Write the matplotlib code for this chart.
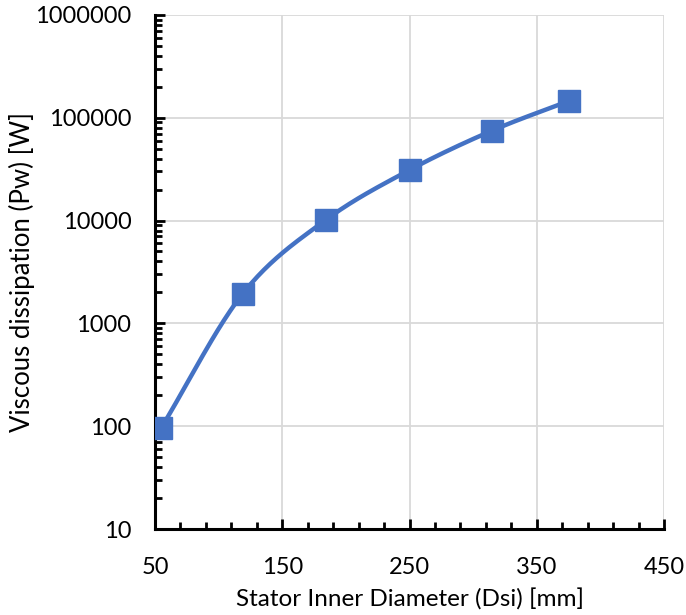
import numpy as np
import matplotlib
matplotlib.use("Agg")
import matplotlib.pyplot as plt
from matplotlib.ticker import MultipleLocator, LogLocator, NullFormatter, FuncFormatter

# Stator inner diameter [mm] and viscous dissipation [W]
dsi = [55, 119, 184, 250, 315, 375]
pw = [97, 1950, 10100, 31000, 75000, 145000]

plt.rcParams['font.family'] = ['Lato', 'DejaVu Sans']
blue = '#4472C4'


def smooth_curve(x, y, n=40):
    # Catmull-Rom through the points, built in (x, log y) so it follows the axis scale
    x = np.asarray(x, float)
    ly = np.log10(np.asarray(y, float))
    px = np.concatenate([[2 * x[0] - x[1]], x, [2 * x[-1] - x[-2]]])
    py = np.concatenate([[2 * ly[0] - ly[1]], ly, [2 * ly[-1] - ly[-2]]])
    xs, ys = [], []
    t = np.linspace(0, 1, n)
    for i in range(1, len(px) - 2):
        for p, out in ((px, xs), (py, ys)):
            p0, p1, p2, p3 = p[i - 1], p[i], p[i + 1], p[i + 2]
            c1 = p1 + (p2 - p0) / 6
            c2 = p2 - (p3 - p1) / 6
            out.extend((1 - t) ** 3 * p1 + 3 * (1 - t) ** 2 * t * c1
                       + 3 * (1 - t) * t ** 2 * c2 + t ** 3 * p2)
    return np.array(xs), 10 ** np.array(ys)


fig = plt.figure(figsize=(6.86, 6.15), dpi=100)
ax = fig.add_axes([0.226, 0.1398, 0.742, 0.836])

sx, sy = smooth_curve(dsi, pw)
ax.plot(sx, sy, color=blue, lw=3.2, solid_capstyle='round', zorder=3)
ax.plot(dsi, pw, ls='none', marker='s', ms=16, color=blue, zorder=4)

ax.set_yscale('log')
ax.set_xlim(50, 450)
ax.set_ylim(10, 1e6)
ax.xaxis.set_major_locator(MultipleLocator(100, offset=50))
ax.xaxis.set_minor_locator(MultipleLocator(20, offset=10))
ax.yaxis.set_major_locator(LogLocator(base=10))
ax.yaxis.set_minor_locator(LogLocator(base=10, subs=np.arange(2, 10)))
ax.yaxis.set_minor_formatter(NullFormatter())
ax.yaxis.set_major_formatter(FuncFormatter(lambda v, p: f"{v:.0f}"))

ax.grid(True, which='major', color='#d9d9d9', lw=1.3)
ax.set_axisbelow(True)
for side in ('top', 'right'):
    ax.spines[side].set_visible(False)
for side in ('left', 'bottom'):
    ax.spines[side].set_linewidth(2.2)
    ax.spines[side].set_color('black')

ax.tick_params(which='major', direction='in', length=7, width=2, labelsize=17)
ax.tick_params(which='minor', direction='in', length=5, width=2)
ax.tick_params(axis='x', which='major', pad=20)
ax.tick_params(axis='y', which='major', pad=17)

ax.set_xlabel('Stator Inner Diameter (Dsi) [mm]', fontsize=17.5, labelpad=8)
ax.set_ylabel('Viscous dissipation (Pw) [W]', fontsize=18.5, labelpad=0)

fig.savefig('out.png', dpi=100)
